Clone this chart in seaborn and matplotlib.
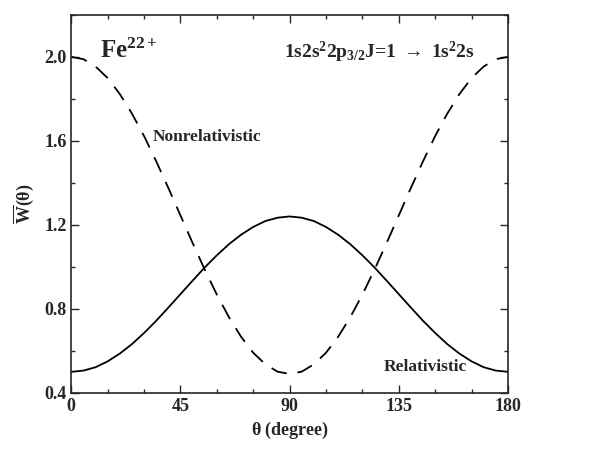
import numpy as np
import pandas as pd
import seaborn as sns
import matplotlib.pyplot as plt
from matplotlib.ticker import MultipleLocator

# angles in degrees
theta = [0, 5, 10, 15, 20, 25, 30, 35, 40, 45, 50, 55, 60, 65, 70, 75, 80, 85, 90,
         95, 100, 105, 110, 115, 120, 125, 130, 135, 140, 145, 150, 155, 160, 165, 170, 175, 180]
relativistic = [0.500, 0.506, 0.522, 0.550, 0.587, 0.632, 0.685, 0.743, 0.806, 0.870, 0.934, 0.997,
                1.055, 1.108, 1.153, 1.190, 1.218, 1.234, 1.240,
                1.234, 1.218, 1.190, 1.153, 1.108, 1.055, 0.997, 0.934, 0.870, 0.806, 0.743,
                0.685, 0.632, 0.587, 0.550, 0.522, 0.506, 0.500]
nonrelativistic = [2.000, 1.989, 1.954, 1.899, 1.823, 1.730, 1.623, 1.503, 1.376, 1.245, 1.114, 0.987,
                   0.868, 0.760, 0.667, 0.591, 0.536, 0.501, 0.490,
                   0.501, 0.536, 0.591, 0.667, 0.760, 0.868, 0.987, 1.114, 1.245, 1.376, 1.503,
                   1.623, 1.730, 1.823, 1.899, 1.954, 1.989, 2.000]

FONT = "Liberation Serif"


def main():
  df = pd.DataFrame({"theta": theta, "rel": relativistic, "nonrel": nonrelativistic})
  sns.set_style("ticks")
  plt.rcParams["font.family"] = FONT
  plt.rcParams["font.weight"] = "bold"
  plt.rcParams["mathtext.fontset"] = "custom"
  plt.rcParams["mathtext.rm"] = "Liberation Serif:bold"
  plt.rcParams["mathtext.it"] = "Liberation Serif:bold"
  plt.rcParams["mathtext.bf"] = "Liberation Serif:bold"

  fig, ax = plt.subplots(figsize=(6.04, 4.5), dpi=100)
  fig.subplots_adjust(left=0.118, right=0.841, top=0.967, bottom=0.127)

  sns.lineplot(x="theta", y="rel", data=df, color="black", linewidth=1.3, ax=ax)
  sns.lineplot(x="theta", y="nonrel", data=df, color="black", linewidth=1.3, ax=ax,
               linestyle=(0, (9, 6)))

  ax.set_xlim(0, 180)
  ax.set_ylim(0.4, 2.2)
  ax.xaxis.set_major_locator(MultipleLocator(45))
  ax.xaxis.set_minor_locator(MultipleLocator(15))
  ax.yaxis.set_major_locator(MultipleLocator(0.4))
  ax.yaxis.set_minor_locator(MultipleLocator(0.2))
  ax.set_yticks([0.4, 0.8, 1.2, 1.6, 2.0])
  ax.set_yticklabels(["0.4", "0.8", "1.2", "1.6", "2.0"])
  ax.tick_params(which="both", direction="in", top=True, right=True, width=1, labelsize=13)
  ax.tick_params(which="major", length=6)
  ax.tick_params(which="minor", length=3)
  for s in ax.spines.values():
    s.set_linewidth(1.2)

  ax.set_xlabel(r"$\theta$ (degree)", fontsize=13, fontweight="bold")
  ax.set_ylabel(r"$\overline{\mathrm{W}}(\theta)$", fontsize=13, labelpad=6)

  ax.text(12, 2.03, r"Fe$^{22+}$", fontsize=18, fontweight="bold", ha="left", va="center")
  ax.text(127, 2.02, r"1s2s$^2$2p$_{3/2}$J=1 $\rightarrow$ 1s$^2$2s", fontsize=14,
          fontweight="bold", ha="center", va="center")
  ax.text(56, 1.62, "Nonrelativistic", fontsize=12.5, fontweight="bold", ha="center", va="center")
  ax.text(146, 0.525, "Relativistic", fontsize=12.5, fontweight="bold", ha="center", va="center")

  plt.savefig("out.png", dpi=100)


if __name__ == "__main__":
  main()
